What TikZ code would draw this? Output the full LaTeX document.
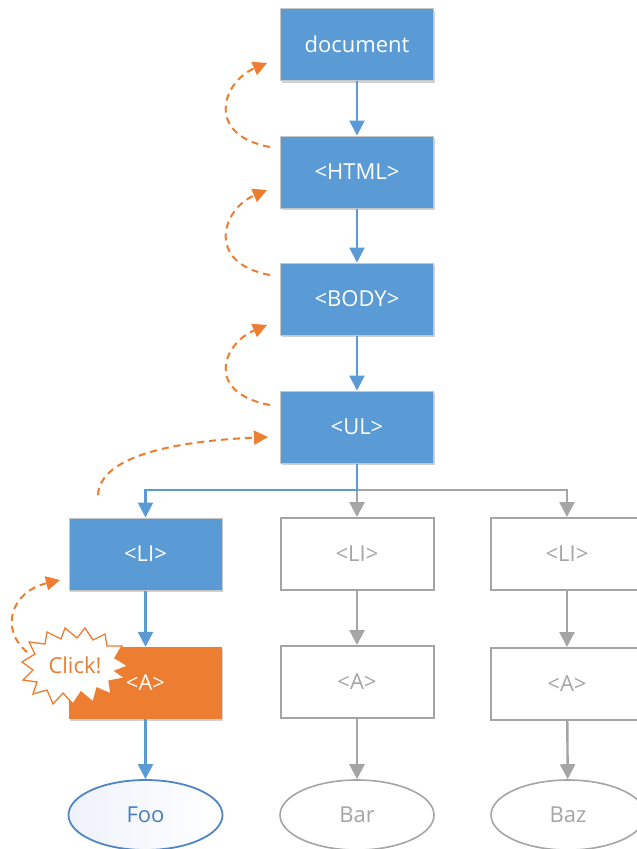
\documentclass[tikz,border=0pt]{standalone}
\usepackage{fontspec}
\setmainfont{Open Sans}
\usetikzlibrary{arrows.meta,shadows,shapes.geometric}
\definecolor{cblue}{HTML}{5B9BD5}
\definecolor{corange}{HTML}{ED7D31}
\definecolor{cgray}{HTML}{A5A5A5}
\definecolor{cfoo}{HTML}{4F86C3}
\definecolor{cfootext}{HTML}{4A7EBB}
\definecolor{cfoofill}{HTML}{EEF2FA}
\tikzset{
  lbl/.style={font=\fontsize{22}{26}\selectfont},
  box/.style={rectangle, minimum width=153pt, minimum height=72pt, inner sep=0pt, lbl},
  bluebox/.style={box, fill=cblue, draw=black!22, line width=1pt, text=white,
    drop shadow={shadow xshift=1pt, shadow yshift=-2pt, opacity=0.18, fill=black}},
  orangebox/.style={box, fill=corange, draw=none, text=white,
    drop shadow={shadow xshift=1pt, shadow yshift=-2pt, opacity=0.18, fill=black}},
  graybox/.style={box, fill=white, draw=cgray, line width=2pt, text=cgray},
  leaf/.style={ellipse, minimum width=154pt, minimum height=70pt, inner sep=0pt, lbl},
  grayleaf/.style={leaf, draw=cgray, line width=1.6pt, text=cgray, fill=white},
  fooleaf/.style={leaf, draw=cfoo, line width=1.8pt, text=cfootext,
    left color=cfoofill, right color=white},
  barrow/.style={draw=cblue, line width=2.4pt, -{Triangle[width=15pt,length=15pt]}},
  garrow/.style={draw=cgray, line width=2.4pt, -{Triangle[width=15pt,length=15pt]}},
  darrow/.style={draw=corange, line width=2pt, dash pattern=on 7pt off 5pt,
    -{Triangle[width=14pt,length=14pt]}},
}
\begin{document}
\begin{tikzpicture}[x=1pt,y=-1pt]
\useasboundingbox (0,0) rectangle (637,849);
\clip (0,0) rectangle (637,849);
\fill[white] (0,0) rectangle (637,849);

% blue chain
\node[bluebox] (doc)  at (357,44.5) {document};
\node[bluebox] (html) at (357,172) {<HTML>};
\node[bluebox] (body) at (357,299) {<BODY>};
\node[bluebox] (ul)   at (357,427) {<UL>};
\node[bluebox] (li1)  at (145.5,554) {<LI>};
\node[orangebox] (a1) at (145.5,683) {\raisebox{-4pt}{<A>}};
\node[fooleaf] (foo)  at (145.5,815) {Foo};

% gray columns
\node[graybox] (li2) at (357,554) {<LI>};
\node[graybox] (a2)  at (357,682) {<A>};
\node[grayleaf] (bar) at (357,815) {Bar};
\node[graybox] (li3) at (567,554) {<LI>};
\node[graybox] (a3)  at (567,684) {<A>};
\node[grayleaf] (baz) at (568,815) {Baz};

% junction
\coordinate (j) at (357,490);

% gray connectors
\draw[garrow] (j) -- (li2.north);
\draw[garrow] (j) -| (li3.north);
\draw[garrow] (li2) -- (a2);
\draw[garrow] (a2) -- (bar);
\draw[garrow] (li3) -- (a3);
\draw[garrow] (a3) -- (baz);

% blue connectors
\draw[barrow] (doc) -- (html);
\draw[barrow] (html) -- (body);
\draw[barrow] (body) -- (ul);
\draw[barrow] (ul.south) -- (j) -| (li1.north);
\draw[barrow] (li1) -- (a1);
\draw[barrow] (a1) -- (foo);

% dashed bubbling arrows
\coordinate (s1) at (270,147); \coordinate (t1) at (267,63);
\coordinate (s2) at (270,275); \coordinate (t2) at (267,190);
\coordinate (s3) at (270,405); \coordinate (t3) at (267,325);
\coordinate (s4) at (98,495);  \coordinate (t4) at (268,437);
\coordinate (s5) at (27,652);  \coordinate (t5) at (60,580);
\draw[darrow] (s1) .. controls (205,135) and (222,82) .. (t1);
\draw[darrow] (s2) .. controls (205,263) and (222,209) .. (t2);
\draw[darrow] (s3) .. controls (205,393) and (222,344) .. (t3);
\draw[darrow] (s4) .. controls (100,450) and (200,440) .. (t4);
\draw[darrow] (s5) .. controls (0,630) and (10,592) .. (t5);

% Click! starburst
\draw[corange, line width=1.3pt, fill=white, line join=miter]
  (75+53,666) -- (75+40,666-8) -- (75+47,666-20) -- (75+32,666-20) -- (75+30,666-32)
  -- (75+18,666-26) -- (75+10,666-38) -- (75+2,666-28) -- (75-10,666-38) -- (75-14,666-27)
  -- (75-28,666-34) -- (75-30,666-22) -- (75-46,666-24) -- (75-40,666-12) -- (75-53,666-4)
  -- (75-42,666+4) -- (75-52,666+14) -- (75-38,666+16) -- (75-42,666+28) -- (75-28,666+24)
  -- (75-22,666+38) -- (75-12,666+27) -- (75-2,666+38) -- (75+6,666+26) -- (75+18,666+36)
  -- (75+22,666+22) -- (75+36,666+28) -- (75+34,666+15) -- (75+50,666+12) -- (75+40,666+5)
  -- cycle;
\node[text=corange, lbl] (clicktxt) at (75,665) {Click!};
\end{tikzpicture}
\end{document}
